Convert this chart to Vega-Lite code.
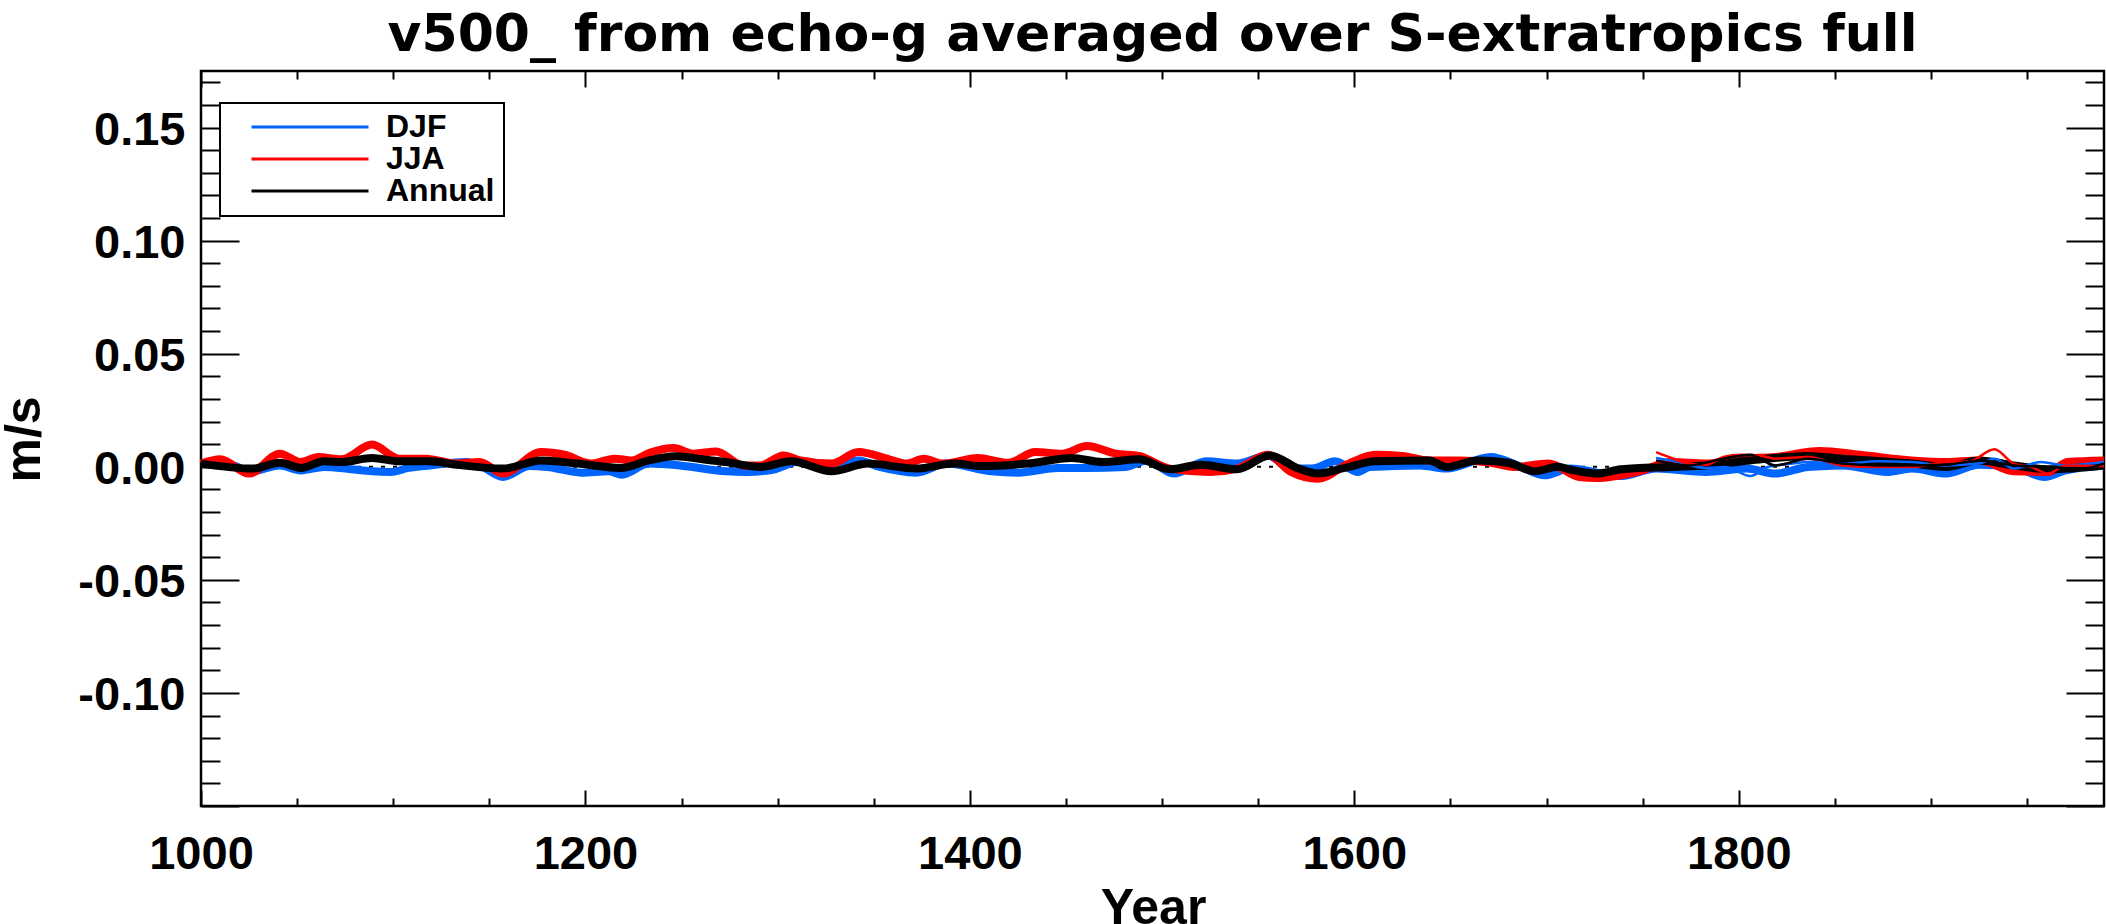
{
  "$schema": "https://vega.github.io/schema/vega-lite/v6.json",
  "width": 1903,
  "height": 735,
  "autosize": {"type": "none"},
  "padding": {"left": 201, "top": 71, "right": 2, "bottom": 118},
  "background": "white",
  "title": {"text": "v500_ from echo-g averaged over S-extratropics full", "font": "DejaVu Sans", "fontWeight": "bold", "fontSize": 52, "color": "black", "anchor": "middle", "frame": "group", "baseline": "alphabetic", "offset": -33},
  "datasets": {
    "thick": [
      {"year":1000,"value":0.0014,"season":"DJF"},{"year":1017,"value":0.0006,"season":"DJF"},{"year":1025,"value":-0.0023,"season":"DJF"},{"year":1041,"value":0.0006,"season":"DJF"},{"year":1052,"value":-0.0016,"season":"DJF"},{"year":1064,"value":-0.0001,"season":"DJF"},{"year":1078,"value":-0.0011,"season":"DJF"},{"year":1089,"value":-0.002,"season":"DJF"},{"year":1099,"value":-0.0023,"season":"DJF"},{"year":1108,"value":-0.0005,"season":"DJF"},{"year":1119,"value":0.0006,"season":"DJF"},{"year":1138,"value":0.0021,"season":"DJF"},{"year":1145,"value":0.0006,"season":"DJF"},{"year":1157,"value":-0.0045,"season":"DJF"},{"year":1171,"value":0.0003,"season":"DJF"},{"year":1180,"value":-0.0001,"season":"DJF"},{"year":1198,"value":-0.0026,"season":"DJF"},{"year":1212,"value":-0.002,"season":"DJF"},{"year":1219,"value":-0.0035,"season":"DJF"},{"year":1233,"value":0.0014,"season":"DJF"},{"year":1249,"value":0.0006,"season":"DJF"},{"year":1273,"value":-0.002,"season":"DJF"},{"year":1284,"value":-0.0023,"season":"DJF"},{"year":1296,"value":-0.0016,"season":"DJF"},{"year":1312,"value":0.0024,"season":"DJF"},{"year":1328,"value":0.0006,"season":"DJF"},{"year":1342,"value":0.0028,"season":"DJF"},{"year":1353,"value":-0.0001,"season":"DJF"},{"year":1372,"value":-0.0026,"season":"DJF"},{"year":1388,"value":0.0014,"season":"DJF"},{"year":1411,"value":-0.002,"season":"DJF"},{"year":1425,"value":-0.0026,"season":"DJF"},{"year":1446,"value":-0.0005,"season":"DJF"},{"year":1460,"value":-0.0005,"season":"DJF"},{"year":1481,"value":-0.0001,"season":"DJF"},{"year":1492,"value":0.0028,"season":"DJF"},{"year":1506,"value":-0.003,"season":"DJF"},{"year":1523,"value":0.0024,"season":"DJF"},{"year":1539,"value":0.0014,"season":"DJF"},{"year":1555,"value":0.005,"season":"DJF"},{"year":1567,"value":-0.0008,"season":"DJF"},{"year":1578,"value":-0.0008,"season":"DJF"},{"year":1590,"value":0.0024,"season":"DJF"},{"year":1602,"value":-0.0023,"season":"DJF"},{"year":1608,"value":-0.0001,"season":"DJF"},{"year":1634,"value":0.0006,"season":"DJF"},{"year":1648,"value":-0.0008,"season":"DJF"},{"year":1671,"value":0.0043,"season":"DJF"},{"year":1685,"value":0.0006,"season":"DJF"},{"year":1699,"value":-0.0038,"season":"DJF"},{"year":1712,"value":-0.0008,"season":"DJF"},{"year":1739,"value":-0.0041,"season":"DJF"},{"year":1757,"value":-0.0008,"season":"DJF"},{"year":1783,"value":-0.0023,"season":"DJF"},{"year":1804,"value":-0.0008,"season":"DJF"},{"year":1819,"value":-0.003,"season":"DJF"},{"year":1836,"value":-0.0001,"season":"DJF"},{"year":1854,"value":0.0006,"season":"DJF"},{"year":1877,"value":-0.0023,"season":"DJF"},{"year":1890,"value":-0.0008,"season":"DJF"},{"year":1908,"value":-0.003,"season":"DJF"},{"year":1925,"value":0.0009,"season":"DJF"},{"year":1943,"value":-0.0001,"season":"DJF"},{"year":1959,"value":-0.0045,"season":"DJF"},{"year":1970,"value":-0.0016,"season":"DJF"},{"year":1990,"value":0.0006,"season":"DJF"},
      {"year":1000,"value":0.0014,"season":"JJA"},{"year":1010,"value":0.0033,"season":"JJA"},{"year":1025,"value":-0.003,"season":"JJA"},{"year":1041,"value":0.0058,"season":"JJA"},{"year":1052,"value":0.0021,"season":"JJA"},{"year":1061,"value":0.0043,"season":"JJA"},{"year":1073,"value":0.0033,"season":"JJA"},{"year":1089,"value":0.0098,"season":"JJA"},{"year":1103,"value":0.0036,"season":"JJA"},{"year":1117,"value":0.0036,"season":"JJA"},{"year":1133,"value":0.0014,"season":"JJA"},{"year":1145,"value":0.0021,"season":"JJA"},{"year":1157,"value":-0.003,"season":"JJA"},{"year":1177,"value":0.0065,"season":"JJA"},{"year":1189,"value":0.0053,"season":"JJA"},{"year":1203,"value":0.0014,"season":"JJA"},{"year":1215,"value":0.0036,"season":"JJA"},{"year":1224,"value":0.0028,"season":"JJA"},{"year":1233,"value":0.0061,"season":"JJA"},{"year":1246,"value":0.0083,"season":"JJA"},{"year":1256,"value":0.0058,"season":"JJA"},{"year":1268,"value":0.0068,"season":"JJA"},{"year":1282,"value":0.0006,"season":"JJA"},{"year":1291,"value":0.0006,"season":"JJA"},{"year":1303,"value":0.005,"season":"JJA"},{"year":1312,"value":0.0028,"season":"JJA"},{"year":1328,"value":0.0014,"season":"JJA"},{"year":1342,"value":0.0065,"season":"JJA"},{"year":1358,"value":0.0033,"season":"JJA"},{"year":1367,"value":0.0014,"season":"JJA"},{"year":1376,"value":0.0036,"season":"JJA"},{"year":1386,"value":0.0014,"season":"JJA"},{"year":1404,"value":0.0039,"season":"JJA"},{"year":1420,"value":0.0018,"season":"JJA"},{"year":1434,"value":0.0065,"season":"JJA"},{"year":1448,"value":0.0058,"season":"JJA"},{"year":1461,"value":0.0092,"season":"JJA"},{"year":1476,"value":0.0058,"season":"JJA"},{"year":1488,"value":0.0048,"season":"JJA"},{"year":1504,"value":-0.0008,"season":"JJA"},{"year":1525,"value":-0.0023,"season":"JJA"},{"year":1539,"value":-0.0008,"season":"JJA"},{"year":1555,"value":0.0053,"season":"JJA"},{"year":1567,"value":-0.0023,"season":"JJA"},{"year":1581,"value":-0.0053,"season":"JJA"},{"year":1597,"value":0.0014,"season":"JJA"},{"year":1611,"value":0.0053,"season":"JJA"},{"year":1625,"value":0.0048,"season":"JJA"},{"year":1639,"value":0.0028,"season":"JJA"},{"year":1655,"value":0.0028,"season":"JJA"},{"year":1671,"value":0.0018,"season":"JJA"},{"year":1683,"value":-0.0001,"season":"JJA"},{"year":1701,"value":0.0014,"season":"JJA"},{"year":1717,"value":-0.0045,"season":"JJA"},{"year":1726,"value":-0.005,"season":"JJA"},{"year":1747,"value":-0.0023,"season":"JJA"},{"year":1765,"value":0.0021,"season":"JJA"},{"year":1783,"value":0.0014,"season":"JJA"},{"year":1801,"value":0.0036,"season":"JJA"},{"year":1819,"value":0.0043,"season":"JJA"},{"year":1842,"value":0.007,"season":"JJA"},{"year":1863,"value":0.0053,"season":"JJA"},{"year":1890,"value":0.0028,"season":"JJA"},{"year":1908,"value":0.0021,"season":"JJA"},{"year":1925,"value":0.0028,"season":"JJA"},{"year":1943,"value":-0.002,"season":"JJA"},{"year":1961,"value":-0.0023,"season":"JJA"},{"year":1971,"value":0.0021,"season":"JJA"},{"year":1990,"value":0.0028,"season":"JJA"},
      {"year":1000,"value":0.0014,"season":"Annual"},{"year":1027,"value":-0.0008,"season":"Annual"},{"year":1041,"value":0.0018,"season":"Annual"},{"year":1052,"value":-0.0005,"season":"Annual"},{"year":1064,"value":0.0024,"season":"Annual"},{"year":1073,"value":0.0021,"season":"Annual"},{"year":1089,"value":0.0039,"season":"Annual"},{"year":1103,"value":0.0024,"season":"Annual"},{"year":1119,"value":0.0024,"season":"Annual"},{"year":1133,"value":0.0009,"season":"Annual"},{"year":1157,"value":-0.0008,"season":"Annual"},{"year":1177,"value":0.0028,"season":"Annual"},{"year":1196,"value":0.0014,"season":"Annual"},{"year":1219,"value":-0.0005,"season":"Annual"},{"year":1233,"value":0.0028,"season":"Annual"},{"year":1247,"value":0.0046,"season":"Annual"},{"year":1261,"value":0.0033,"season":"Annual"},{"year":1273,"value":0.0021,"season":"Annual"},{"year":1291,"value":-0.0001,"season":"Annual"},{"year":1307,"value":0.0024,"season":"Annual"},{"year":1328,"value":-0.002,"season":"Annual"},{"year":1347,"value":0.0014,"season":"Annual"},{"year":1372,"value":-0.0008,"season":"Annual"},{"year":1392,"value":0.0014,"season":"Annual"},{"year":1406,"value":0.0003,"season":"Annual"},{"year":1430,"value":0.0014,"season":"Annual"},{"year":1453,"value":0.0039,"season":"Annual"},{"year":1469,"value":0.0021,"season":"Annual"},{"year":1488,"value":0.0033,"season":"Annual"},{"year":1504,"value":-0.0011,"season":"Annual"},{"year":1520,"value":0.0009,"season":"Annual"},{"year":1539,"value":-0.0011,"season":"Annual"},{"year":1556,"value":0.005,"season":"Annual"},{"year":1571,"value":-0.0008,"season":"Annual"},{"year":1581,"value":-0.003,"season":"Annual"},{"year":1595,"value":-0.0005,"season":"Annual"},{"year":1611,"value":0.0024,"season":"Annual"},{"year":1639,"value":0.0028,"season":"Annual"},{"year":1648,"value":-0.0001,"season":"Annual"},{"year":1664,"value":0.0028,"season":"Annual"},{"year":1680,"value":0.0018,"season":"Annual"},{"year":1694,"value":-0.002,"season":"Annual"},{"year":1706,"value":0.0,"season":"Annual"},{"year":1712,"value":-0.0012,"season":"Annual"},{"year":1726,"value":-0.003,"season":"Annual"},{"year":1739,"value":-0.0011,"season":"Annual"},{"year":1765,"value":-0.0001,"season":"Annual"},{"year":1783,"value":0.0006,"season":"Annual"},{"year":1806,"value":0.0028,"season":"Annual"},{"year":1836,"value":0.0048,"season":"Annual"},{"year":1854,"value":0.0036,"season":"Annual"},{"year":1890,"value":0.0014,"season":"Annual"},{"year":1908,"value":-0.0001,"season":"Annual"},{"year":1925,"value":0.0028,"season":"Annual"},{"year":1943,"value":0.0006,"season":"Annual"},{"year":1961,"value":-0.0011,"season":"Annual"},{"year":1990,"value":0.0006,"season":"Annual"}
    ],
    "thin": [
      {"year":1757,"value":0.0039,"season":"DJF"},{"year":1765,"value":0.0028,"season":"DJF"},{"year":1783,"value":-0.0005,"season":"DJF"},{"year":1793,"value":-0.0001,"season":"DJF"},{"year":1806,"value":-0.0041,"season":"DJF"},{"year":1815,"value":-0.0001,"season":"DJF"},{"year":1828,"value":0.0014,"season":"DJF"},{"year":1836,"value":0.0021,"season":"DJF"},{"year":1854,"value":0.0014,"season":"DJF"},{"year":1872,"value":0.0024,"season":"DJF"},{"year":1890,"value":0.0021,"season":"DJF"},{"year":1908,"value":0.0006,"season":"DJF"},{"year":1925,"value":0.0014,"season":"DJF"},{"year":1933,"value":0.0036,"season":"DJF"},{"year":1943,"value":-0.0008,"season":"DJF"},{"year":1957,"value":0.0021,"season":"DJF"},{"year":1970,"value":0.0006,"season":"DJF"},{"year":1990,"value":0.0021,"season":"DJF"},
      {"year":1757,"value":0.0065,"season":"JJA"},{"year":1765,"value":0.0039,"season":"JJA"},{"year":1774,"value":0.0014,"season":"JJA"},{"year":1783,"value":0.0009,"season":"JJA"},{"year":1792,"value":0.0043,"season":"JJA"},{"year":1801,"value":0.0053,"season":"JJA"},{"year":1812,"value":0.0048,"season":"JJA"},{"year":1819,"value":0.0036,"season":"JJA"},{"year":1836,"value":0.0043,"season":"JJA"},{"year":1854,"value":0.0006,"season":"JJA"},{"year":1872,"value":-0.0001,"season":"JJA"},{"year":1890,"value":-0.0001,"season":"JJA"},{"year":1908,"value":0.0021,"season":"JJA"},{"year":1920,"value":0.0024,"season":"JJA"},{"year":1933,"value":0.0077,"season":"JJA"},{"year":1943,"value":0.0014,"season":"JJA"},{"year":1952,"value":-0.0001,"season":"JJA"},{"year":1961,"value":-0.003,"season":"JJA"},{"year":1970,"value":0.0006,"season":"JJA"},{"year":1990,"value":0.0003,"season":"JJA"},
      {"year":1757,"value":0.0028,"season":"Annual"},{"year":1774,"value":0.0006,"season":"Annual"},{"year":1792,"value":0.0036,"season":"Annual"},{"year":1806,"value":0.0053,"season":"Annual"},{"year":1819,"value":0.0006,"season":"Annual"},{"year":1836,"value":0.0036,"season":"Annual"},{"year":1854,"value":0.0014,"season":"Annual"},{"year":1872,"value":0.0006,"season":"Annual"},{"year":1890,"value":0.0006,"season":"Annual"},{"year":1908,"value":0.0009,"season":"Annual"},{"year":1925,"value":0.0028,"season":"Annual"},{"year":1943,"value":0.0006,"season":"Annual"},{"year":1961,"value":-0.0001,"season":"Annual"},{"year":1979,"value":-0.0008,"season":"Annual"},{"year":1990,"value":0.0014,"season":"Annual"}
    ]
  },
  "layer": [
    {
      "data": {"values": [{"start": 1000, "end": 1990, "level": 0}]},
      "mark": {"type": "rule", "color": "black", "strokeWidth": 2, "strokeDash": [4, 8]},
      "encoding": {
        "x": {"field": "start", "type": "quantitative", "scale": {"domain": [1000, 1990], "nice": false, "zero": false},
          "axis": {"orient": "bottom", "values": [1000, 1200, 1400, 1600, 1800], "format": "d", "labelFlush": false, "ticks": false, "tickSize": 0, "domain": false, "labelPadding": 62, "labelBaseline": "alphabetic", "labelAlign": "center", "title": "Year", "titleX": 952, "titleY": 117, "titleBaseline": "alphabetic", "titleAlign": "center", "titleAngle": 0}},
        "x2": {"field": "end"},
        "y": {"field": "level", "type": "quantitative", "scale": {"domain": [-0.15, 0.175], "nice": false, "zero": false},
          "axis": {"orient": "left", "values": [-0.1, -0.05, 0, 0.05, 0.1, 0.15], "labelExpr": "datum.value < -0.000001 ? '-' + format(-datum.value, '.2f') : format(abs(datum.value), '.2f')", "ticks": false, "tickSize": 0, "domain": false, "labelPadding": 16, "labelAlign": "right", "labelBaseline": "alphabetic", "labelOffset": 17, "title": "m/s", "titleX": -162, "titleY": 368, "titleAngle": 270, "titleBaseline": "alphabetic", "titleAlign": "center"}}
      }
    },
    {
      "data": {"name": "thick"},
      "transform": [{"filter": "datum.season === 'DJF'"}],
      "mark": {"type": "line", "strokeWidth": 8, "interpolate": "monotone"},
      "encoding": {
        "x": {"field": "year", "type": "quantitative", "scale": {"domain": [1000, 1990], "nice": false, "zero": false},
          "axis": {"orient": "bottom", "values": [1000, 1200, 1400, 1600, 1800], "labels": false, "domain": false, "ticks": true, "tickSize": -16, "title": null}},
        "y": {"field": "value", "type": "quantitative", "scale": {"domain": [-0.15, 0.175], "nice": false, "zero": false},
          "axis": {"orient": "left", "values": [-0.15, -0.1, -0.05, 0, 0.05, 0.1, 0.15], "labels": false, "domain": false, "ticks": true, "tickSize": -38, "title": null}},
        "color": {"field": "season", "type": "nominal", "scale": {"domain": ["DJF", "JJA", "Annual"], "range": ["#0064ff", "#ff0000", "#000000"]},
          "legend": {"orient": "none", "legendX": 19, "legendY": 32, "title": null}}
      }
    },
    {
      "data": {"name": "thick"},
      "transform": [{"filter": "datum.season === 'JJA'"}],
      "mark": {"type": "line", "strokeWidth": 8, "interpolate": "monotone"},
      "encoding": {
        "x": {"field": "year", "type": "quantitative", "scale": {"domain": [1000, 1990], "nice": false, "zero": false},
          "axis": {"orient": "bottom", "values": [1050, 1100, 1150, 1250, 1300, 1350, 1450, 1500, 1550, 1650, 1700, 1750, 1850, 1900, 1950], "labels": false, "domain": false, "ticks": true, "tickSize": -8, "title": null}},
        "y": {"field": "value", "type": "quantitative", "scale": {"domain": [-0.15, 0.175], "nice": false, "zero": false},
          "axis": {"orient": "left", "values": [-0.14, -0.13, -0.12, -0.11, -0.09, -0.08, -0.07, -0.06, -0.04, -0.03, -0.02, -0.01, 0.01, 0.02, 0.03, 0.04, 0.06, 0.07, 0.08, 0.09, 0.11, 0.12, 0.13, 0.14, 0.16, 0.17], "labels": false, "domain": false, "ticks": true, "tickSize": -19, "title": null}},
        "color": {"field": "season", "type": "nominal", "scale": {"domain": ["DJF", "JJA", "Annual"], "range": ["#0064ff", "#ff0000", "#000000"]},
          "legend": {"orient": "none", "legendX": 19, "legendY": 32, "title": null}}
      }
    },
    {
      "data": {"name": "thick"},
      "transform": [{"filter": "datum.season === 'Annual'"}],
      "mark": {"type": "line", "strokeWidth": 8, "interpolate": "monotone"},
      "encoding": {
        "x": {"field": "year", "type": "quantitative", "scale": {"domain": [1000, 1990], "nice": false, "zero": false},
          "axis": {"orient": "top", "values": [1000, 1200, 1400, 1600, 1800], "labels": false, "domain": false, "ticks": true, "tickSize": -16, "title": null}},
        "y": {"field": "value", "type": "quantitative", "scale": {"domain": [-0.15, 0.175], "nice": false, "zero": false},
          "axis": {"orient": "right", "values": [-0.15, -0.1, -0.05, 0, 0.05, 0.1, 0.15], "labels": false, "domain": false, "ticks": true, "tickSize": -38, "title": null}},
        "color": {"field": "season", "type": "nominal", "scale": {"domain": ["DJF", "JJA", "Annual"], "range": ["#0064ff", "#ff0000", "#000000"]},
          "legend": {"orient": "none", "legendX": 19, "legendY": 32, "title": null}}
      }
    },
    {
      "data": {"name": "thin"},
      "mark": {"type": "line", "strokeWidth": 2.5, "interpolate": "monotone"},
      "encoding": {
        "x": {"field": "year", "type": "quantitative", "scale": {"domain": [1000, 1990], "nice": false, "zero": false},
          "axis": {"orient": "top", "values": [1050, 1100, 1150, 1250, 1300, 1350, 1450, 1500, 1550, 1650, 1700, 1750, 1850, 1900, 1950], "labels": false, "domain": false, "ticks": true, "tickSize": -8, "title": null}},
        "y": {"field": "value", "type": "quantitative", "scale": {"domain": [-0.15, 0.175], "nice": false, "zero": false},
          "axis": {"orient": "right", "values": [-0.14, -0.13, -0.12, -0.11, -0.09, -0.08, -0.07, -0.06, -0.04, -0.03, -0.02, -0.01, 0.01, 0.02, 0.03, 0.04, 0.06, 0.07, 0.08, 0.09, 0.11, 0.12, 0.13, 0.14, 0.16, 0.17], "labels": false, "domain": false, "ticks": true, "tickSize": -19, "title": null}},
        "color": {"field": "season", "type": "nominal", "scale": {"domain": ["DJF", "JJA", "Annual"], "range": ["#0064ff", "#ff0000", "#000000"]},
          "legend": {"orient": "none", "legendX": 19, "legendY": 32, "title": null}}
      }
    }
  ],
  "resolve": {"axis": {"x": "independent", "y": "independent"}},
  "config": {
    "view": {"stroke": "black", "strokeWidth": 2.5},
    "axis": {"grid": false, "labelFont": "Liberation Sans", "labelFontWeight": "bold", "labelFontSize": 47, "labelColor": "black", "titleFont": "Liberation Sans", "titleFontWeight": "bold", "titleFontSize": 50, "titleColor": "black", "tickColor": "black", "tickWidth": 2, "labelOverlap": false},
    "legend": {"symbolType": "stroke", "symbolSize": 13689, "symbolStrokeWidth": 3, "clipHeight": 30, "rowPadding": 0, "padding": 9, "strokeColor": "black", "strokeWidth": 2, "fillColor": "white", "labelFont": "Liberation Sans", "labelFontWeight": "bold", "labelFontSize": 32, "labelColor": "black", "symbolOffset": 21, "labelOffset": 16}
  }
}
